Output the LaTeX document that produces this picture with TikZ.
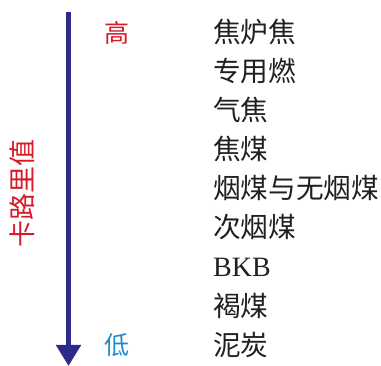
\documentclass[tikz,border=0pt]{standalone}
\usepackage{fontspec}
\setmainfont{Liberation Serif}
\newfontfamily\cjk{Noto Sans CJK SC}
\usetikzlibrary{arrows.meta}
\definecolor{arrowblue}{HTML}{2E2A8C}
\definecolor{hired}{HTML}{D7192A}
\definecolor{lowblue}{HTML}{1E8BD1}
\definecolor{txt}{HTML}{231F20}
\tikzset{
  item/.style={anchor=west, inner sep=0pt, text=txt, font=\cjk\fontsize{27.7}{27.7}\selectfont},
  latin/.style={anchor=west, inner sep=0pt, text=txt, font=\fontsize{28}{28}\selectfont},
  level/.style={inner sep=0pt, font=\cjk\fontsize{25}{25}\selectfont},
  axis/.style={line width=5pt, draw=arrowblue, -{Triangle[width=24pt,length=21pt]}}
}
\begin{document}
\begin{tikzpicture}[x=1pt,y=1pt]
\useasboundingbox (0,0) rectangle (381,-366);
\coordinate (top) at (68.5,-12);
\coordinate (bot) at (68.5,-366);
\draw[axis] (top) -- (bot);
\node[level, text=hired] (hi) at (117,-33) {高};
\node[level, text=lowblue] (lo) at (117,-345) {低};
\node[level, text=hired, rotate=90, font=\cjk\fontsize{27}{27}\selectfont] (cal) at (22,-194) {卡路里值};
\node[item] (r1) at (213,-32) {焦炉焦};
\node[item] (r2) at (213,-71) {专用燃};
\node[item] (r3) at (213,-110) {气焦};
\node[item] (r4) at (213,-149) {焦煤};
\node[item] (r5) at (213,-188) {烟煤与无烟煤};
\node[item] (r6) at (213,-227) {次烟煤};
\node[latin] (r7) at (213,-267) {BKB};
\node[item] (r8) at (213,-306) {褐煤};
\node[item] (r9) at (213,-345) {泥炭};
\end{tikzpicture}
\end{document}
